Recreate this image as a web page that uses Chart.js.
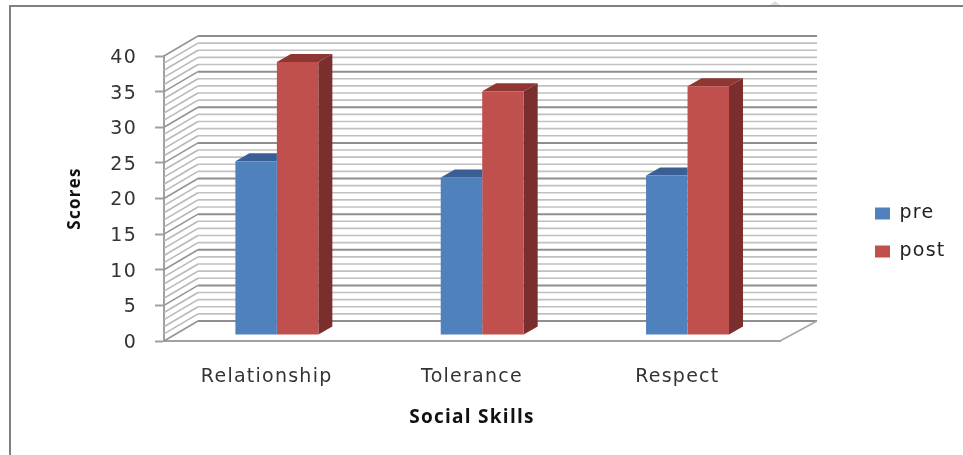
<!DOCTYPE html>
<html><head><meta charset="utf-8">
<style>html,body{margin:0;padding:0;background:#fff}canvas{display:block;filter:blur(.45px)}</style>
<script src="https://cdn.jsdelivr.net/npm/chart.js@4/dist/chart.umd.min.js"></script>
</head><body><canvas id="c" width="963" height="455"></canvas>
<script>
const categories = ['Relationship','Tolerance','Respect'];
const preValues  = [24.4, 22.1, 22.4];
const postValues = [38.3, 34.2, 34.9];
const seriesNames = ['pre','post'];
const yMax = 40, yMajorStep = 5, yMinorStep = 1;

const WALL = {dx:34, dy:20};
const BAR_SHIFT = {x:10.2, y:-6};
const BAR_DEPTH = {dx:14, dy:8};
const tops = ['#395f94','#8f3633'], sides = ['#2f4f7a','#7a2f2e'];
const tickFont = {family:'"DejaVu Sans"', size:19};

function line(ctx,x1,y1,x2,y2,color,w){
  ctx.strokeStyle=color;ctx.lineWidth=w;ctx.beginPath();ctx.moveTo(x1,y1);ctx.lineTo(x2,y2);ctx.stroke();
}
function poly(ctx,pts,color){
  ctx.fillStyle=color;ctx.beginPath();pts.forEach((p,i)=>i?ctx.lineTo(p[0],p[1]):ctx.moveTo(p[0],p[1]));ctx.closePath();ctx.fill();
}
const scene = {
  id:'scene',
  beforeLayout(chart){
    chart.ctx.letterSpacing='1.25px';
    const l=chart.legend;
    if(l && !l._wrapped){const f=l.fit;l.fit=function(){f.call(this);this.width=183;};l._wrapped=true;}
  },
  afterLayout(chart){
    const l=chart.legend;
    l.left=856;l.right=962;l.top=185;l.bottom=340;
    l.adjustHitBoxes();
  },
  beforeDraw(chart){
    const c=chart.ctx;
    c.letterSpacing='1.25px';
    c.save();
    line(c,10,5,10,455,'#808080',2);
    line(c,9,6,963,6,'#808080',2);
    poly(c,[[770,5],[775,1],[780,5]],'#dedede');
    c.restore();
  },
  beforeDatasetsDraw(chart){
    const c=chart.ctx, y=chart.scales.y, a=chart.chartArea;
    c.save();
    for(let v=0;v<=yMax;v+=yMinorStep){
      const p=y.getPixelForValue(v), major=v%yMajorStep===0;
      line(c,a.left,p,a.left+WALL.dx,p-WALL.dy,major?'#949494':'#b8b8b8',major?1.6:1.5);
      line(c,a.left+WALL.dx,p-WALL.dy,a.right+WALL.dx+3,p-WALL.dy,major?'#8e8e8e':'#c0c0c0',major?2:1.7);
    }
    const b=y.getPixelForValue(0);
    line(c,a.right,b,a.right+WALL.dx+3,b-WALL.dy,'#a6a6a6',1.6);
    c.restore();
  },
  beforeDatasetDraw(chart,args){
    const c=chart.ctx, i=args.index;
    c.save();
    c.translate(BAR_SHIFT.x,BAR_SHIFT.y);
    args.meta.data.forEach(el=>{
      const h=el.width/2, l=el.x-h, r=el.x+h, d=BAR_DEPTH;
      const farRight = i===chart.data.datasets.length-1;
      poly(c,[[l,el.y],[l+d.dx,el.y-d.dy],[farRight?r+d.dx:r,el.y-d.dy],[r,el.y]],tops[i]);
      if(farRight) poly(c,[[r,el.y],[r+d.dx,el.y-d.dy],[r+d.dx,el.base-d.dy],[r,el.base]],sides[i]);
    });
  },
  afterDatasetDraw(chart){ chart.ctx.restore(); }
};

new Chart(document.getElementById('c'),{
  type:'bar',
  data:{labels:categories,datasets:[
    {label:seriesNames[0],data:preValues,backgroundColor:'#4f81bd',borderWidth:0},
    {label:seriesNames[1],data:postValues,backgroundColor:'#c0504d',borderWidth:0}
  ]},
  options:{
    responsive:false,animation:false,
    layout:{padding:{left:0,right:0,top:56,bottom:0}},
    datasets:{bar:{barPercentage:1,categoryPercentage:.404}},
    plugins:{
      title:{display:false},tooltip:{enabled:false},
      legend:{display:true,position:'right',align:'start',
        labels:{boxWidth:15,boxHeight:12,padding:19,color:'#222',font:tickFont,useBorderRadius:false}}
    },
    scales:{
      x:{
        afterFit(s){s.height=114;},
        grid:{display:false},
        border:{display:true,color:'#a0a0a0',width:2},
        ticks:{color:'#333',font:tickFont,padding:17,maxRotation:0},
        title:{display:true,text:'Social Skills',color:'#111',
          font:{family:'"Open Sans"',size:19,weight:'bold'},padding:{top:0,bottom:26}}
      },
      y:{
        min:0,max:yMax,
        afterFit(s){s.width=164;},
        grid:{drawOnChartArea:false,drawTicks:true,tickLength:9,tickWidth:2,
          tickColor:c=>c.tick&&c.tick.value%yMajorStep===0?'#a0a0a0':'rgba(0,0,0,0)',
          color:'rgba(0,0,0,0)'},
        border:{display:true,color:'#a0a0a0',width:2},
        ticks:{stepSize:yMinorStep,autoSkip:false,color:'#333',font:tickFont,padding:18,labelOffset:2,
          callback:v=>v%yMajorStep===0?String(v):''},
        title:{display:true,text:'Scores',color:'#111',
          font:{family:'"Open Sans"',size:17,weight:'bold'},padding:{top:65,bottom:0}}
      }
    }
  },
  plugins:[scene]
});
</script></body></html>
